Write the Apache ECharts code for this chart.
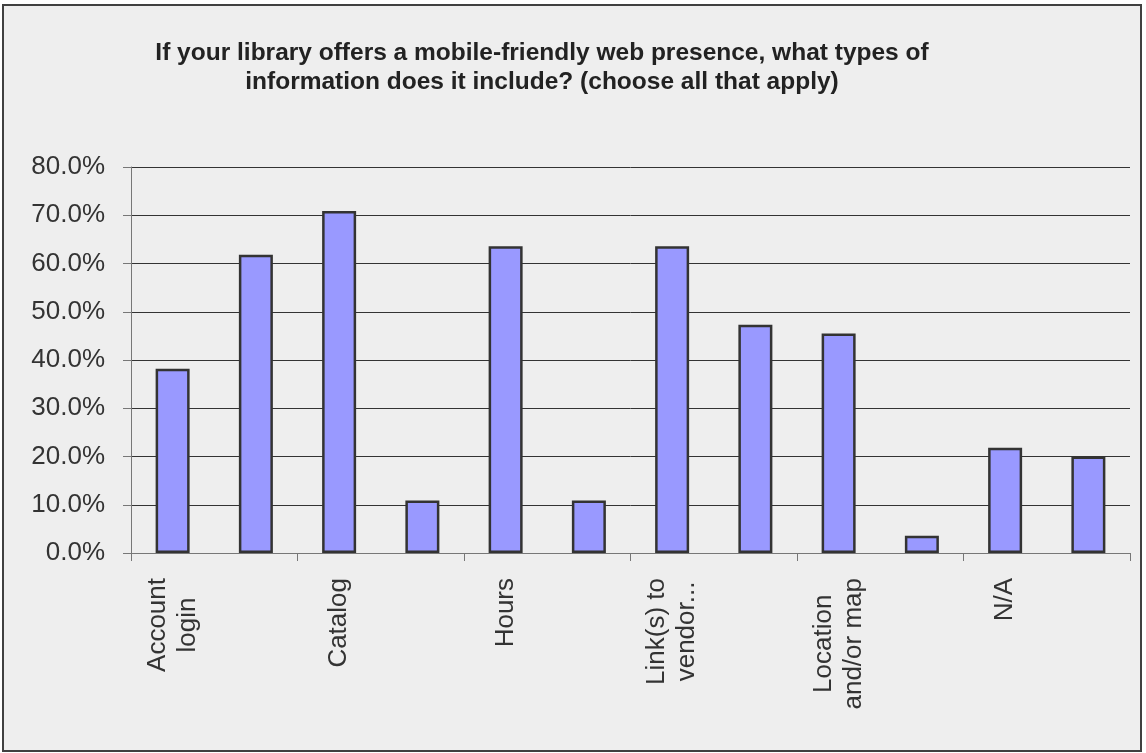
<!DOCTYPE html>
<html>
<head>
<meta charset="utf-8">
<script src="https://cdn.jsdelivr.net/npm/echarts@6/dist/echarts.min.js"></script>
<style>
html,body{margin:0;padding:0;background:#ffffff;}
#chart{width:1146px;height:753px;}
</style>
</head>
<body>
<div id="chart"></div>
<script>
const titleText = 'If your library offers a mobile-friendly web presence, what types of\ninformation does it include? (choose all that apply)';
const categories = [
  'Account\nlogin',
  'Ask a\nlibrarian',
  'Catalog',
  'Databases',
  'Hours',
  'Library news',
  'Link(s) to\nvendor...',
  'Link(s) to\nwebsite',
  'Location\nand/or map',
  'Mobile apps',
  'N/A',
  'Other'
];
const values = [38.2, 61.8, 70.9, 10.9, 63.6, 10.9, 63.6, 47.3, 45.5, 3.6, 21.8, 20.0];
const yTicks = { min: 0, max: 80, interval: 10 };

const chart = echarts.init(document.getElementById('chart'), null, { renderer: 'canvas' });
const FONT = '"Liberation Sans", Arial, sans-serif';
chart.setOption({
  backgroundColor: '#ffffff',
  animation: false,
  graphic: [{
    type: 'rect',
    z: -10,
    shape: { x: 3, y: 5, width: 1138, height: 746 },
    style: { fill: '#eeeeee', stroke: '#404040', lineWidth: 2 }
  }],
  title: {
    text: titleText,
    left: 537,
    top: 34,
    textAlign: 'center',
    textStyle: {
      fontFamily: FONT,
      fontSize: 24.5,
      fontWeight: 'bold',
      color: '#222222',
      lineHeight: 29
    }
  },
  grid: { left: 131, right: 16, top: 167, bottom: 200, containLabel: false },
  xAxis: {
    type: 'category',
    data: categories,
    axisLine: { show: true, lineStyle: { color: '#777777', width: 1 } },
    axisTick: { show: true, length: 8, lineStyle: { color: '#777777' } },
    axisLabel: {
      interval: 1,
      rotate: 90,
      margin: 25,
      formatter: function (v) {
        return v.split('\n').map(function (l) { return '{c|' + l + '}'; }).join('\n');
      },
      rich: {
        c: { align: 'center', fontFamily: FONT, fontSize: 26, color: '#333333', lineHeight: 30 }
      }
    },
    splitLine: { show: false }
  },
  yAxis: {
    type: 'value',
    min: yTicks.min,
    max: yTicks.max,
    interval: yTicks.interval,
    axisLine: { show: true, lineStyle: { color: '#777777', width: 1 } },
    axisTick: { show: true, length: 8, lineStyle: { color: '#777777' } },
    axisLabel: {
      margin: 26,
      fontFamily: FONT,
      fontSize: 26,
      color: '#333333',
      formatter: function (v) { return v.toFixed(1) + '%'; }
    },
    splitLine: { show: true, lineStyle: { color: '#333333', width: 1 } }
  },
  series: [{
    type: 'bar',
    data: values,
    barWidth: 34,
    itemStyle: { color: '#9999ff', borderColor: '#333333', borderWidth: 2.5 }
  }]
});
</script>
</body>
</html>
